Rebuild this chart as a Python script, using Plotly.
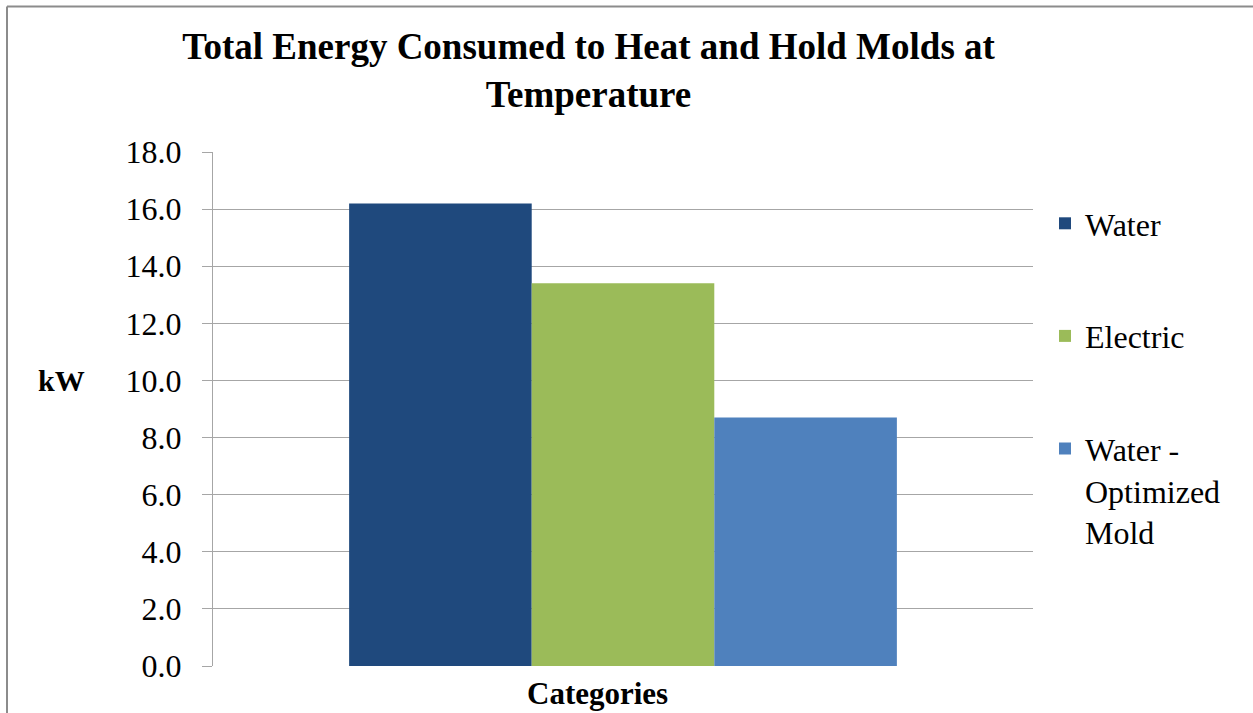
import plotly.graph_objects as go

categories = [""]
series_names = ["Water", "Electric", "Water -<br>Optimized<br>Mold"]
series_values = [[16.2], [13.4], [8.7]]
colors = ["#1F497D", "#9BBB59", "#4F81BD"]
y_ticks = [0, 2, 4, 6, 8, 10, 12, 14, 16, 18]

W, H = 1253, 713
L, R, T, B = 213, 220, 152, 47
pw, ph = W - L - R, H - T - B

def px_x(p):
    return (p - L) / pw

def px_y(p):
    return (H - B - p) / ph

font = "Liberation Serif, Times New Roman, serif"

fig = go.Figure()
for i, (name, vals) in enumerate(zip(series_names, series_values)):
    fig.add_trace(go.Bar(x=categories, y=vals, name=name, marker_color=colors[i],
                         marker_line_width=0, legendgroup=str(i)))

fig.update_layout(
    width=W, height=H,
    margin=dict(l=L, r=R, t=T, b=B),
    paper_bgcolor="white", plot_bgcolor="white",
    font=dict(family=font, color="black", size=30),
    barmode="group", bargap=0.332, bargroupgap=0,
    title=dict(text="<b>Total Energy Consumed to Heat and Hold Molds at<br>Temperature</b>",
               x=(180 + 997) / 2 / W, xanchor="center", y=1 - 59 / H, yanchor="top",
               font=dict(size=37, family=font)),
    showlegend=True,
    legend=dict(x=px_x(1045), y=px_y(196), xanchor="left", yanchor="top",
                font=dict(size=32, family=font), tracegroupgap=68, valign="top",
                itemwidth=30, bgcolor="rgba(0,0,0,0)"),
    xaxis=dict(showticklabels=False, showline=False, ticks=""),
    yaxis=dict(range=[0, 18], tickvals=y_ticks, ticktext=[f"{v:.1f}" for v in y_ticks],
               showgrid=True, gridcolor="#A6A6A6", gridwidth=1,
               showline=True, linecolor="#A6A6A6", linewidth=1,
               ticks="outside", ticklen=10, tickcolor="#A6A6A6", ticklabelstandoff=14,
               tickfont=dict(size=32, family=font), zeroline=False),
    annotations=[
        dict(text="<b>kW</b>", x=px_x(61), y=px_y(380), xref="paper", yref="paper",
             xanchor="center", yanchor="middle", showarrow=False, font=dict(size=30, family=font)),
        dict(text="<b>Categories</b>", x=px_x(597), y=px_y(693), xref="paper", yref="paper",
             xanchor="center", yanchor="middle", showarrow=False, font=dict(size=31, family=font)),
    ],
    shapes=[
        dict(type="line", xref="paper", yref="paper", x0=px_x(7), x1=px_x(1260),
             y0=px_y(6.5), y1=px_y(6.5), line=dict(color="#8C8C8C", width=2)),
        dict(type="line", xref="paper", yref="paper", x0=px_x(7), x1=px_x(7),
             y0=px_y(6.5), y1=px_y(720), line=dict(color="#8C8C8C", width=2)),
    ],
)

fig.write_html("out.html", config={"displayModeBar": False},
               post_script="document.body.style.margin='0';document.body.style.overflow='hidden';")
